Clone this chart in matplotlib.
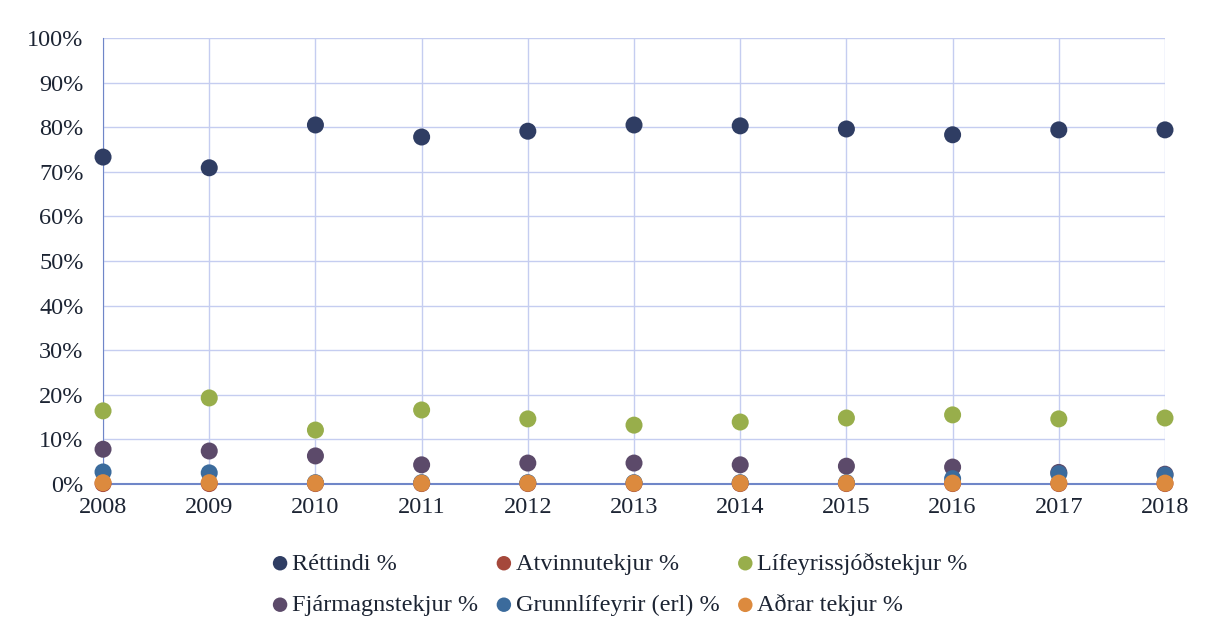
import matplotlib.pyplot as plt
from matplotlib.ticker import FuncFormatter

years = list(range(2008, 2019))

series_names = ["Réttindi %", "Atvinnutekjur %", "Lífeyrissjóðstekjur %",
                "Fjármagnstekjur %", "Grunnlífeyrir (erl) %", "Aðrar tekjur %"]

rettindi = [73.3, 70.9, 80.5, 77.8, 79.1, 80.5, 80.3, 79.6, 78.3, 79.4, 79.4]
atvinnutekjur = [0.1, 0.1, 0.1, 0.1, 0.1, 0.1, 0.1, 0.1, 0.1, 0.1, 0.1]
lifeyris = [16.4, 19.3, 12.1, 16.6, 14.6, 13.2, 13.9, 14.8, 15.5, 14.6, 14.8]
fjarmagns = [7.8, 7.4, 6.3, 4.3, 4.7, 4.7, 4.3, 4.0, 3.8, 2.6, 2.2]
grunnlifeyrir = [2.7, 2.5, 0.3, 0.3, 0.3, 0.3, 0.3, 0.3, 1.2, 2.3, 2.0]
adrar = [0.3, 0.3, 0.2, 0.2, 0.2, 0.2, 0.2, 0.2, 0.2, 0.2, 0.2]

colors = ["#2f3d63", "#a5483b", "#98ae4b", "#5c4a6a", "#3b6b9c", "#dc8a3e"]

plt.rcParams['font.family'] = ['Liberation Serif', 'DejaVu Serif']

fig = plt.figure(figsize=(12.08, 6.29), dpi=100)
ax = fig.add_axes([0.0853, 0.2305, 0.8791, 0.7091])

all_values = [rettindi, atvinnutekjur, lifeyris, fjarmagns, grunnlifeyrir, adrar]
handles = []
for name, vals, c in zip(series_names, all_values, colors):
    h = ax.scatter(years, vals, s=150, color=c, label=name, clip_on=False, zorder=3,
                   edgecolors='none')
    handles.append(h)

ax.set_xlim(2008, 2018)
ax.set_ylim(0, 100)
ax.set_xticks(years)
ax.set_yticks(range(0, 101, 10))
ax.yaxis.set_major_formatter(FuncFormatter(lambda v, p: f"{int(v)}%"))
ax.grid(True, color="#c5cdf0", linewidth=1)
ax.set_axisbelow(True)
for s in ["top", "right"]:
    ax.spines[s].set_visible(False)
ax.spines["left"].set_color("#6f86c8")
ax.spines["bottom"].set_color("#6f86c8")
ax.spines["bottom"].set_linewidth(1.5)
ax.tick_params(length=0, labelsize=17.5, colors="#1c2433")
ax.tick_params(axis='y', pad=14)
ax.tick_params(axis='x', pad=9)

# legend: row-major order by reshuffling for column-major fill
order = [0, 3, 1, 4, 2, 5]
fig.legend([handles[i] for i in order], [series_names[i] for i in order],
           ncol=3, loc="center", bbox_to_anchor=(0.513, 0.071), frameon=False,
           fontsize=17.5, handlelength=0.7, handletextpad=0.15, columnspacing=0.7,
           markerscale=0.85, labelspacing=0.8, labelcolor="#1c2433")

fig.savefig("out.png", dpi=100, facecolor="white")
